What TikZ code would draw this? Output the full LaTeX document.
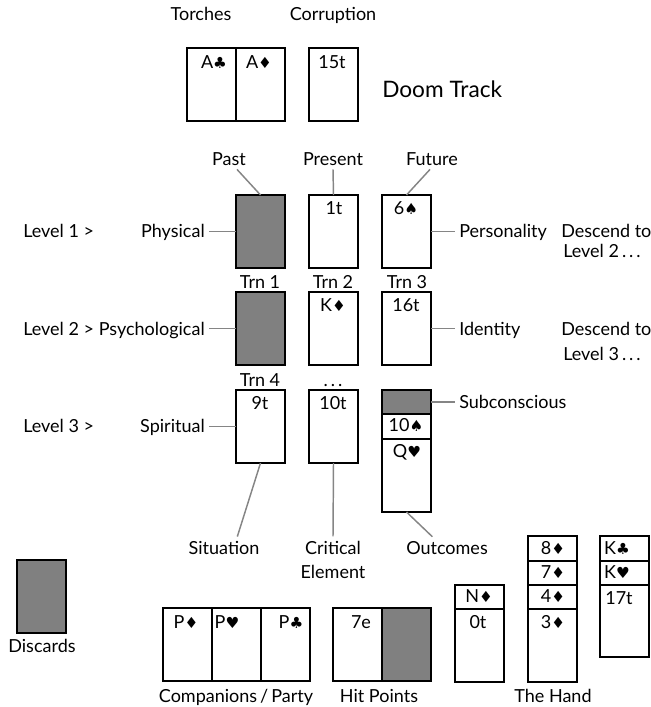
\documentclass[tikz,border=0pt]{standalone}
\usepackage{fontspec}
\setmainfont{Lato}
\newfontfamily\symf{DejaVu Sans}[Scale=0.85]
\usetikzlibrary{calc}
\definecolor{cardgray}{HTML}{808080}
\definecolor{linegray}{HTML}{858585}
\newcommand\Cl{{\symf ♣}}
\newcommand\Di{{\symf ♦}}
\newcommand\He{{\symf ♥}}
\newcommand\Sp{{\symf ♠}}
\begin{document}
\begin{tikzpicture}[x=0.75pt,y=-0.75pt,
  card/.style={draw, line width=1.4pt, minimum width=36.75pt, minimum height=54.75pt, anchor=north west, inner sep=0pt, outer sep=0pt},
  seg/.style={card, minimum height=#1},
  back/.style={fill=cardgray},
  txt/.style={font=\fontsize{13.5}{15}\selectfont, inner sep=3pt, anchor=base},
  txtw/.style={txt, anchor=base west},
  txte/.style={txt, anchor=base east},
  conn/.style={draw=linegray, line width=1.1pt},
]
\useasboundingbox (0,0) rectangle (650,707);

% ---- top
\node[txt] (torches) at (201,20) {Torches};
\node[txt] (corr) at (333,20) {Corruption};
\node[txtw, font=\fontsize{17}{19}\selectfont] (doom) at (378,97) {Doom Track};
\node[card] (tc1) at (187,48) {};
\node[card] (tc2) at (236,48) {};
\node[card] (cc) at (309,48) {};
\node[txt] (ttc1) at (214,68) {A\Cl};
\node[txt] (ttc2) at (259,68) {A\Di};
\node[txt] (tcc) at (332,68) {15t};

% ---- row 1
\node[txt] (past) at (229,165) {Past};
\node[txt] (pres) at (333,165) {Present};
\node[txt] (fut) at (432,165) {Future};
\node[txtw] (lvl1) at (19,237) {Level 1 >};
\node[txte] (phys) at (209,237) {Physical};
\node[txtw] (pers) at (455,237) {Personality};
\node[txtw] (desc1) at (557,237) {Descend to};
\node[txtw] (lvl2d) at (559,257) {Level 2\,.\,.\,.};
\node[card, back] (c11) at (236,195) {};
\node[card] (c12) at (309,195) {};
\node[card] (c13) at (382,195) {};
\node[txt] (t12) at (334,214) {1t};
\node[txt] (t13) at (406,214) {6\Sp};
\node[txt] (trn1) at (260,288) {Trn 1};
\node[txt] (trn2) at (333,288) {Trn 2};
\node[txt] (trn3) at (407,288) {Trn 3};

% ---- row 2
\node[txtw] (lvl2) at (19,335) {Level 2 >};
\node[txte] (psych) at (209,335) {Psychological};
\node[txtw] (ident) at (455,335) {Identity};
\node[txtw] (desc2) at (557,335) {Descend to};
\node[txtw] (lvl3d) at (559,360) {Level 3\,.\,.\,.};
\node[card, back] (c21) at (236,292) {};
\node[card] (c22) at (309,292) {};
\node[card] (c23) at (382,292) {};
\node[txt] (t22) at (333,311) {K\Di};
\node[txt] (t23) at (406,311) {16t};
\node[txt] (trn4) at (260,386) {Trn 4};
\node[txt] (dots) at (333,386) {.\,.\,.};

% ---- row 3
\node[txtw] (lvl3) at (19,432) {Level 3 >};
\node[txte] (spirit) at (209,432) {Spiritual};
\node[txtw] (subc) at (455,408) {Subconscious};
\node[card] (c31) at (236,390) {};
\node[card] (c32) at (309,390) {};
\node[seg=18pt, back] (c33a) at (382,390) {};
\node[seg=18.75pt] (c33b) at (382,414) {};
\node[card] (c33c) at (382,439) {};
\node[txt] (t31) at (260,409) {9t};
\node[txt] (t32) at (333,409) {10t};
\node[txt] (t33b) at (406,431) {10\Sp};
\node[txt] (t33c) at (407,457) {Q\He};

\node[txt] (situ) at (224,554) {Situation};
\node[txt] (crit) at (333,554) {Critical};
\node[txt] (elem) at (333,578) {Element};
\node[txt] (outc) at (447,554) {Outcomes};

% ---- connectors
\draw[conn] ([xshift=6pt]past.south) -- (c11.north);
\draw[conn] (pres.south) -- (c12.north);
\draw[conn] ([xshift=-1.5pt]fut.south) -- (c13.north);
\draw[conn] (c11.west) -- (c11.west -| phys.east);
\draw[conn] (c13.east) -- (c13.east -| pers.west);
\draw[conn] (c21.west) -- (c21.west -| psych.east);
\draw[conn] (c23.east) -- (c23.east -| ident.west);
\draw[conn] (c31.west) -- (c31.west -| spirit.east);
\draw[conn] (c33a.east) -- (c33a.east -| subc.west);
\draw[conn] (c31.south) -- ([xshift=10pt]situ.north);
\draw[conn] (c32.south) -- (crit.north);
\draw[conn] (c33c.south) -- ([xshift=-11pt]outc.north);

% ---- bottom
\node[card, back] (disc) at (17,560) {};
\node[txt] (discl) at (42,652) {Discards};
\node[card] (p1) at (163,608) {};
\node[card] (p2) at (212,608) {};
\node[card] (p3) at (261,608) {};
\node[txt] (tp1) at (186,628) {P\Di};
\node[txt] (tp2) at (227,628) {P\He};
\node[txt] (tp3) at (291,628) {P\Cl};
\node[card] (hp1) at (333,608) {};
\node[card, back] (hp2) at (382,608) {};
\node[txt] (thp1) at (361,628) {7e};
\node[txt] (compl) at (236,702) {Companions\,/\,Party};
\node[txt] (hpl) at (379,702) {Hit Points};

\node[seg=18pt] (n1) at (455,585) {};
\node[card] (n2) at (455,609) {};
\node[txt] (tn1) at (479,602) {N\Di};
\node[txt] (tn2) at (478,628) {0t};

\node[seg=18.75pt] (h1) at (528,536) {};
\node[seg=18pt] (h2) at (528,561) {};
\node[seg=18pt] (h3) at (528,585) {};
\node[card] (h4) at (528,609) {};
\node[txt] (th1) at (553,554) {8\Di};
\node[txt] (th2) at (553,578) {7\Di};
\node[txt] (th3) at (553,602) {4\Di};
\node[txt] (th4) at (553,628) {3\Di};

\node[seg=18.75pt] (k1) at (600,536) {};
\node[seg=18pt] (k2) at (600,561) {};
\node[seg=54pt] (k3) at (600,585) {};
\node[txt] (tk1) at (617,554) {K\Cl};
\node[txt] (tk2) at (617,578) {K\He};
\node[txt] (tk3) at (619,604) {17t};

\node[txt] (handl) at (553,702) {The Hand};
\end{tikzpicture}
\end{document}
